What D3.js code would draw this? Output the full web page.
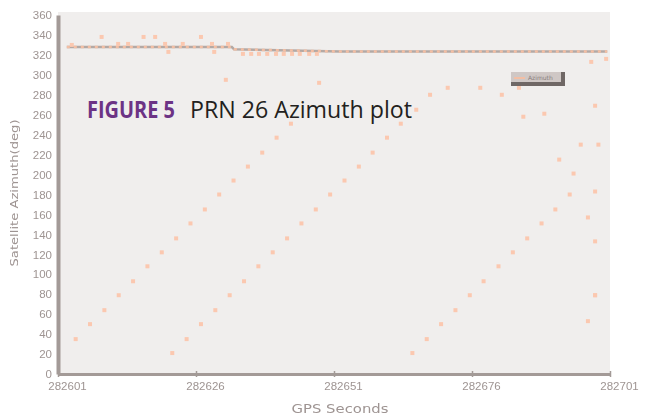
<!DOCTYPE html>
<html>
<head>
<meta charset="utf-8">
<script src="https://cdn.jsdelivr.net/npm/d3@7"></script>
<style>
  body { margin: 0; background: #fff; }
</style>
</head>
<body>
<script>
const width = 650;
const height = 417;

// axis ticks
const xTicks = [282601, 282626, 282651, 282676, 282701];
const yTicks = [0, 20, 40, 60, 80, 100, 120, 140, 160, 180, 200, 220, 240, 260, 280, 300, 320, 340, 360];

// grey azimuth track near the top
const trackTime = [282602.6, 282632.5, 282632.9, 282652.1, 282700.5];
const trackAzimuth = [327.9, 327.9, 325.6, 323.4, 323.4];

// rising sweeps of samples
const sweepATime = [282604.2, 282606.8, 282609.4, 282612.0, 282614.6, 282617.2, 282619.8, 282622.4,
                    282625.0, 282627.6, 282630.2, 282632.8, 282635.4, 282638.0, 282640.6, 282643.2];
const sweepAAzimuth = [35, 50, 64, 79, 93, 108, 122, 136, 151, 165, 180, 194, 208, 222, 237, 251];

const sweepBTime = [282621.7, 282624.3, 282626.9, 282629.5, 282632.1, 282634.7, 282637.3, 282639.9,
                    282642.5, 282645.1, 282647.7, 282650.3, 282652.9, 282655.5, 282658.0, 282660.6,
                    282663.1, 282665.9, 282668.4, 282671.6];
const sweepBAzimuth = [21, 35, 50, 64, 79, 93, 108, 122, 136, 151, 165, 180, 194, 208, 222, 237,
                       251, 265, 280, 287];

const sweepCTime = [282665.2, 282667.8, 282670.4, 282673.0, 282675.6, 282678.1, 282680.8, 282683.4,
                    282686.0, 282688.6, 282691.1, 282693.7];
const sweepCAzimuth = [21, 35, 50, 64, 79, 93, 108, 122, 136, 151, 165, 180];

// samples scattered round the track
const nearTrackTime = [282603.5, 282608.9, 282611.9, 282613.7, 282616.5, 282618.6, 282620.4, 282621.0,
                       282623.6, 282626.9, 282628.9, 282629.3, 282631.8,
                       282634.5, 282636.0, 282637.4, 282638.9, 282640.5, 282641.9, 282643.4, 282644.8,
                       282646.5, 282647.9];
const nearTrackAzimuth = [330, 338, 331, 331, 338, 338, 331, 323, 331, 338, 331, 323, 331,
                          321, 321, 321, 321, 321, 321, 321, 321, 321, 321];

// other loose samples
const looseTime = [282631.4, 282648.3, 282677.5, 282681.4, 282684.5, 282685.3, 282689.1, 282691.8,
                   282694.4, 282695.7, 282697.0, 282697.0, 282697.6, 282698.3, 282698.3, 282698.3,
                   282698.3, 282698.3, 282698.9, 282700.3];
const looseAzimuth = [295, 292, 287, 280, 287, 258, 261, 215, 201, 230, 157, 53, 313, 269, 183, 133,
                      79, 79, 230, 316];

let svg = d3.select("body")
  .append("svg")
    .attr("width", width)
    .attr("height", height)
    .style("font-family", "DejaVu Sans");

// the scan is soft, blur the small grey text a little
svg.append("defs")
  .append("filter")
    .attr("id", "soft")
  .append("feGaussianBlur")
    .attr("stdDeviation", 0.6);

let x = d3.scaleLinear()
  .domain([282601, 282701])
  .range([58, 610]);

let y = d3.scaleLinear()
  .domain([0, 360])
  .range([374, 15]);

// plot background
svg.append("rect")
  .attr("x", x(282601))
  .attr("y", y(363))
  .attr("width", x(282701) - x(282601))
  .attr("height", y(0) - y(363))
  .attr("fill", "#f0eeed");

// track line with the orange samples sitting on it
let line = d3.line()
  .x(d => x(d[0]))
  .y(d => y(d[1]));

let track = d3.zip(trackTime, trackAzimuth);

svg.append("path")
  .attr("d", line(track))
  .attr("fill", "none")
  .attr("stroke", "#b3a9a5")
  .attr("stroke-width", 2.5);

svg.append("path")
  .attr("d", line(track))
  .attr("fill", "none")
  .attr("stroke", "#f3bea4")
  .attr("stroke-width", 2.5)
  .attr("stroke-dasharray", "3,4");

let points = [].concat(
  d3.zip(sweepATime, sweepAAzimuth),
  d3.zip(sweepBTime, sweepBAzimuth),
  d3.zip(sweepCTime, sweepCAzimuth),
  d3.zip(nearTrackTime, nearTrackAzimuth),
  d3.zip(looseTime, looseAzimuth)
);

svg.selectAll("rect.sample")
  .data(points)
  .enter()
  .append("rect")
    .attr("class", "sample")
    .attr("x", d => x(d[0]) - 2)
    .attr("y", d => y(d[1]) - 2)
    .attr("width", 4)
    .attr("height", 4)
    .attr("fill", "#fbc8b0");

// axes
let xAxis = svg.append("g")
  .attr("transform", "translate(0," + y(0) + ")")
  .call(d3.axisBottom(x).tickValues(xTicks).tickSize(3).tickSizeOuter(0).tickFormat(d3.format("d")));

xAxis.select(".domain")
  .attr("stroke", "#a39a97")
  .attr("stroke-width", 3);

xAxis.selectAll(".tick line")
  .attr("stroke", "#a39a97")
  .attr("stroke-width", 1.5)
  .attr("y1", -3);

xAxis.selectAll(".tick text")
  .attr("dx", 9)
  .attr("dy", "0.9em")
  .attr("fill", "#9e9492")
  .style("font-size", "11.5px")
  .attr("filter", "url(#soft)");

let yAxis = svg.append("g")
  .attr("transform", "translate(" + x(282601) + ",0)")
  .call(d3.axisLeft(y).tickValues(yTicks).tickSize(0).tickPadding(6));

yAxis.select(".domain")
  .attr("stroke", "#a39a97")
  .attr("stroke-width", 4);

yAxis.selectAll(".tick text")
  .attr("fill", "#9e9492")
  .style("font-size", "11.5px")
  .attr("filter", "url(#soft)");

// axis titles
svg.append("text")
  .attr("x", (x(282601) + x(282701)) / 2 + 6)
  .attr("y", 413)
  .attr("text-anchor", "middle")
  .attr("textLength", 97)
  .attr("lengthAdjust", "spacingAndGlyphs")
  .attr("fill", "#9e9492")
  .attr("filter", "url(#soft)")
  .style("font-size", "11.5px")
  .text("GPS Seconds");

svg.append("text")
  .attr("transform", "translate(18,193) rotate(-90)")
  .attr("text-anchor", "middle")
  .attr("textLength", 147)
  .attr("lengthAdjust", "spacingAndGlyphs")
  .attr("fill", "#9e9492")
  .attr("filter", "url(#soft)")
  .style("font-size", "10.5px")
  .text("Satellite Azimuth(deg)");

// legend box
let legend = svg.append("g")
  .attr("transform", "translate(511,72)");

legend.append("rect")
  .attr("width", 54)
  .attr("height", 14)
  .attr("fill", "#cfc7c5");

legend.append("rect")
  .attr("y", 10)
  .attr("width", 54)
  .attr("height", 4)
  .attr("fill", "#6f6765");

legend.append("rect")
  .attr("x", 50)
  .attr("width", 4)
  .attr("height", 14)
  .attr("fill", "#6f6765");

legend.append("line")
  .attr("x1", 3).attr("x2", 14)
  .attr("y1", 6).attr("y2", 6)
  .attr("stroke", "#f3bea4")
  .attr("stroke-width", 2);

legend.append("text")
  .attr("x", 17)
  .attr("y", 8)
  .attr("fill", "#8a807e")
  .style("font-size", "6px")
  .text("Azimuth");

// figure caption printed over the plot
svg.append("text")
  .attr("x", 87)
  .attr("y", 118)
  .attr("textLength", 88)
  .attr("lengthAdjust", "spacingAndGlyphs")
  .attr("fill", "#6c3385")
  .style("font-family", "Open Sans")
  .style("font-weight", 700)
  .style("font-size", "23px")
  .text("FIGURE 5");

svg.append("text")
  .attr("x", 190)
  .attr("y", 118)
  .attr("textLength", 222)
  .attr("lengthAdjust", "spacingAndGlyphs")
  .attr("fill", "#231f20")
  .style("font-family", "Open Sans")
  .style("font-size", "23px")
  .text("PRN 26 Azimuth plot");
</script>
</body>
</html>
